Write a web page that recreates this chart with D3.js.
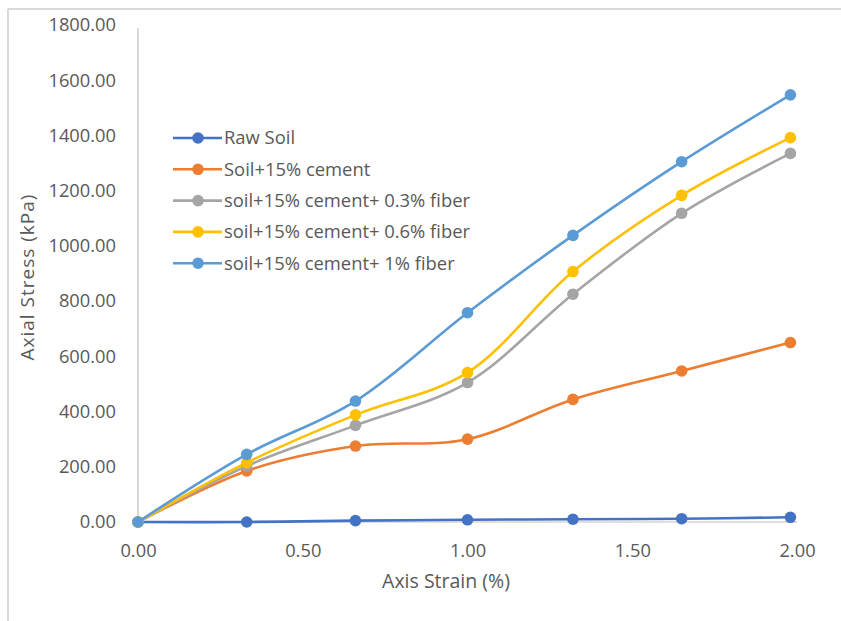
<!DOCTYPE html>
<html><head><meta charset="utf-8">
<script src="https://cdn.jsdelivr.net/npm/d3@7"></script>
<style>
html,body{margin:0;padding:0;background:#fff;}
svg{display:block;}
text{font-family:"Open Sans",sans-serif;fill:#595959;}
</style></head><body>
<svg id="c" width="841" height="621"></svg>
<script>
const strain = [0, 0.33, 0.66, 1.0, 1.32, 1.65, 1.98];
const seriesNames = ["Raw Soil","Soil+15% cement","soil+15% cement+ 0.3% fiber","soil+15% cement+ 0.6% fiber","soil+15% cement+ 1% fiber"];
const rawSoil   = [0, 0, 5, 8, 10, 12, 17];
const cement15  = [0, 185, 275, 300, 444, 547, 650];
const fiber03   = [0, 203, 350, 505, 825, 1118, 1335];
const fiber06   = [0, 215, 388, 541, 907, 1183, 1392];
const fiber1    = [0, 245, 438, 758, 1038, 1305, 1547];
const colors = ["#4472C4","#ED7D31","#A5A5A5","#FFC000","#5B9BD5"];
const yTicks = [0,200,400,600,800,1000,1200,1400,1600,1800];
const xTicks = [0,0.5,1.0,1.5,2.0];
const allSeries = [rawSoil, cement15, fiber03, fiber06, fiber1];

const svg = d3.select("#c");
// outer frame (top & left)
svg.append("line").attr("x1",8).attr("x2",841).attr("y1",9).attr("y2",9).attr("stroke","#d9d9d9").attr("stroke-width",2);
svg.append("line").attr("x1",8).attr("x2",8).attr("y1",9).attr("y2",621).attr("stroke","#d9d9d9").attr("stroke-width",2);

const x = d3.scaleLinear().domain([0,2]).range([138,797]);
const y = d3.scaleLinear().domain([0,1800]).range([522,25]);

// axes lines
svg.append("line").attr("x1",x(0)).attr("x2",x(0)).attr("y1",y(1800)+3).attr("y2",y(0)).attr("stroke","#bfbfbf").attr("stroke-width",1.2);
svg.append("line").attr("x1",x(0)).attr("x2",x(2)).attr("y1",y(0)).attr("y2",y(0)).attr("stroke","#bfbfbf").attr("stroke-width",1.2);

const yAxis = svg.append("g").attr("transform",`translate(${x(0)},0)`)
  .call(d3.axisLeft(y).tickValues(yTicks).tickSize(0).tickPadding(22).tickFormat(d3.format(".2f")));
yAxis.select(".domain").remove();
yAxis.selectAll("text").style("font-size","18.3px").attr("fill","#595959");

const xAxis = svg.append("g").attr("transform",`translate(0,${y(0)})`)
  .call(d3.axisBottom(x).tickValues(xTicks).tickSize(0).tickPadding(22).tickFormat(d3.format(".2f")));
xAxis.select(".domain").remove();
xAxis.selectAll("text").style("font-size","18.3px").attr("fill","#595959");

// axis titles
svg.append("text").attr("x",446).attr("y",588).attr("text-anchor","middle").style("font-size","19.5px").text("Axis Strain (%)");
svg.append("text").attr("transform","translate(34,277) rotate(-90)").attr("text-anchor","middle")
  .style("font-size","19px").style("letter-spacing","1px").text("Axial Stress (kPa)");

const line = d3.line().x((d,i)=>x(strain[i])).y(d=>y(d)).curve(d3.curveCatmullRom.alpha(0.5));

allSeries.forEach((s,k)=>{
  const g = svg.append("g");
  g.append("path").datum(s).attr("d",line).attr("fill","none").attr("stroke",colors[k]).attr("stroke-width",2.6);
  g.selectAll("circle").data(s).join("circle").attr("cx",(d,i)=>x(strain[i])).attr("cy",d=>y(d)).attr("r",5.8).attr("fill",colors[k]);
});

// legend
const lg = svg.append("g");
seriesNames.forEach((n,k)=>{
  const yy = 138 + k*31.3;
  lg.append("line").attr("x1",173).attr("x2",222).attr("y1",yy).attr("y2",yy).attr("stroke",colors[k]).attr("stroke-width",2.6);
  lg.append("circle").attr("cx",198).attr("cy",yy).attr("r",5.8).attr("fill",colors[k]);
  lg.append("text").attr("x",224).attr("y",yy).attr("dy","0.35em").style("font-size","18.4px").text(n);
});
</script>
</body></html>
